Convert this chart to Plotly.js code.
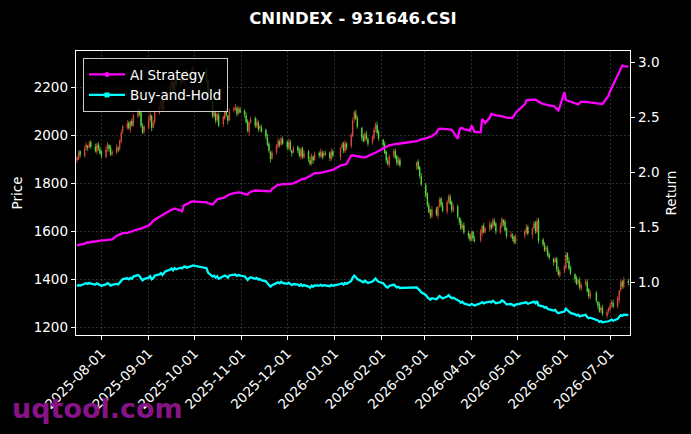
<!DOCTYPE html>
<html>
<head>
<meta charset="utf-8">
<script src="https://cdn.plot.ly/plotly-3.0.1.min.js"></script>
<style>
html,body{margin:0;padding:0;background:#000;}
#chart{width:691px;height:434px;}
</style>
</head>
<body>
<div id="chart"></div>
<script>
// ---- data ----
const startDate = '2025-07-16';
const endDate = '2026-07-13';
const holidays = ['2025-10-01','2025-10-02','2025-10-03','2025-10-06','2025-10-07','2025-10-08',
  '2026-01-01','2026-01-02','2026-02-16','2026-02-17','2026-02-18','2026-02-19','2026-02-20','2026-02-23',
  '2026-04-06','2026-05-01','2026-05-04','2026-05-05','2026-06-19'];

const openPx = [
 1895,1902,1931,1913,1944,1954,1951,1971,1950,1931,1962,1941,
 1931,1910,1940,1956,1948,1923,1928,1944,1944,1972,2016,2030,2050,2024,2058,2045,2078,2101,2094,2037,2016,
 2030,2062,2079,2033,2055,2093,2116,2144,2107,2156,2170,2202,2219,2193,2235,2208,2236,2229,2252,2266,2235,2267,
 2270,2228,2140,2078,2091,2064,2082,2046,2070,2102,2079,2063,2105,2108,2111,2094,2107,
 2101,2080,2057,2014,2053,2070,2038,2051,2029,2032,2021,1990,1962,1929,1903,1930,1953,1971,1964,1982,
 1971,1945,1972,1934,1928,1950,1933,1911,1944,1907,1931,1895,1882,1909,1898,1925,1913,1926,1914,1922,1926,1900,1932,
 1909,1948,1965,1933,1961,1954,1997,2066,2090,2072,2029,1993,1980,2003,1981,1969,1987,2026,2040,2012,
 1979,1963,1930,1893,1876,1914,1932,1911,1880,1897,1869,1888,1865,1828,
 1791,1754,1707,1686,1660,1692,1664,1703,1735,1708,1681,1724,1742,1721,1685,1702,1654,1643,1615,1623,1591,1584,
 1562,1596,1565,1562,1594,1623,1600,1608,1626,1619,1642,1631,1595,1622,1644,1638,1610,1578,1581,1574,1552,
 1581,1595,1617,1584,1613,1635,1598,1645,1564,1542,1526,1525,1502,1484,1473,1485,1438,1416,
 1434,1447,1506,1475,1447,1419,1403,1385,1393,1361,1379,1387,1356,1325,1342,1304,1293,1270,1278,1248,1266,
 1272,1296,1300,1287,1314,1353,1390,1368,1391
];
const highPx = [
 1913,1937,1937,1957,1969,1959,1977,1978,1964,1968,1970,1953,
 1937,1953,1971,1961,1959,1937,1962,1954,1983,2022,2041,2063,2059,2060,2069,2087,2119,2111,2102,2049,2041,
 2075,2094,2084,2061,2102,2134,2150,2152,2162,2181,2215,2234,2224,2241,2242,2254,2246,2263,2272,2272,2280,2289,
 2280,2232,2145,2109,2101,2093,2094,2081,2115,2111,2084,2111,2117,2129,2121,2118,2119,
 2107,2095,2066,2055,2076,2077,2069,2061,2043,2044,2027,2005,1971,1934,1936,1962,1989,1981,1993,1994,
 1977,1985,1981,1939,1956,1957,1947,1950,1952,1937,1937,1910,1924,1914,1931,1932,1944,1936,1933,1934,1932,1945,1941,
 1950,1971,1972,1979,1971,2008,2072,2101,2105,2081,2034,2004,2012,2017,1991,1998,2032,2051,2055,2021,
 1984,1974,1937,1907,1920,1943,1944,1917,1910,1906,1890,1899,1872,1842,
 1801,1762,1719,1692,1705,1701,1705,1741,1742,1722,1730,1753,1754,1727,1715,1711,1659,1654,1632,1637,1601,1592,
 1602,1602,1580,1609,1625,1634,1617,1644,1636,1653,1654,1637,1635,1659,1649,1649,1617,1599,1591,1582,1587,
 1606,1630,1626,1615,1641,1642,1654,1655,1572,1554,1536,1540,1511,1489,1491,1492,1452,1440,
 1458,1512,1512,1490,1456,1424,1414,1402,1407,1385,1398,1399,1362,1355,1351,1309,1304,1287,1292,1272,1283,
 1302,1311,1315,1329,1355,1396,1397,1409,1401
];
const lowPx = [
 1885,1896,1905,1906,1935,1933,1946,1941,1927,1919,1934,1919,
 1902,1903,1931,1930,1913,1912,1920,1928,1934,1966,2003,2023,2021,2009,2035,2034,2070,2078,2030,2004,2003,
 2023,2053,2015,2028,2044,2085,2104,2100,2101,2143,2163,2193,2175,2188,2199,2200,2213,2219,2246,2227,2228,2258,
 2215,2142,2070,2070,2048,2054,2034,2033,2063,2076,2045,2058,2094,2100,2078,2084,2089,
 2072,2048,2011,1999,2048,2029,2030,2013,2019,2009,1982,1953,1926,1885,1898,1919,1945,1948,1954,1959,
 1937,1938,1931,1910,1923,1924,1907,1899,1900,1901,1887,1873,1873,1880,1893,1904,1905,1898,1904,1914,1892,1893,1906,
 1894,1943,1924,1925,1938,1944,1991,2053,2063,2026,1975,1970,1969,1977,1953,1959,1981,2013,2003,1976,
 1945,1920,1884,1872,1864,1904,1899,1872,1873,1866,1854,1855,1819,1787,
 1738,1700,1674,1652,1653,1661,1649,1698,1699,1677,1669,1714,1709,1677,1678,1651,1625,1605,1604,1587,1568,1555,
 1556,1557,1553,1553,1579,1590,1589,1600,1603,1609,1619,1587,1588,1613,1620,1600,1569,1570,1558,1545,1546,
 1568,1588,1581,1569,1608,1589,1590,1548,1535,1514,1513,1493,1481,1455,1468,1429,1412,1404,
 1424,1441,1467,1438,1416,1385,1375,1374,1357,1349,1369,1344,1317,1318,1301,1275,1260,1259,1247,1236,1256,
 1266,1283,1278,1278,1299,1348,1359,1360,1373
];
const closePx = [
 1905,1925,1918,1942,1960,1948,1966,1952,1935,1958,1944,1925,
 1915,1938,1962,1945,1918,1930,1948,1940,1975,2010,2035,2048,2030,2055,2040,2080,2105,2090,2040,2010,2035,
 2060,2085,2030,2050,2095,2120,2140,2110,2150,2175,2200,2225,2190,2230,2210,2240,2225,2255,2260,2240,2265,2280,
 2230,2150,2080,2095,2060,2085,2040,2075,2100,2085,2060,2100,2110,2115,2090,2110,2095,
 2085,2055,2020,2050,2065,2040,2055,2025,2035,2015,1995,1960,1935,1900,1925,1955,1975,1960,1985,1965,
 1950,1970,1940,1925,1945,1935,1915,1940,1910,1925,1900,1880,1915,1895,1920,1915,1930,1910,1925,1920,1905,1930,1915,
 1945,1960,1935,1965,1950,2000,2060,2095,2070,2035,1990,1975,2005,1985,1965,1990,2020,2045,2010,1985,
 1960,1925,1895,1880,1910,1935,1905,1885,1895,1875,1885,1860,1830,1795,
 1750,1710,1680,1665,1690,1670,1700,1730,1710,1685,1720,1745,1715,1690,1700,1660,1640,1610,1625,1595,1580,1565,
 1590,1570,1560,1600,1620,1595,1610,1630,1615,1645,1625,1600,1620,1650,1635,1605,1580,1585,1570,1555,1575,
 1600,1615,1590,1610,1630,1600,1640,1560,1545,1520,1530,1500,1490,1470,1480,1440,1420,1430,
 1450,1500,1480,1445,1425,1400,1380,1395,1365,1375,1390,1350,1330,1340,1310,1290,1265,1280,1255,1262,1275,
 1290,1305,1285,1320,1350,1385,1370,1395,1385
];
const aiStrategy = [
 1.336,1.338,1.340,1.352,1.360,1.365,1.362,1.368,1.372,1.375,1.378,1.382,
 1.382,1.384,1.386,1.388,1.390,1.392,1.425,1.430,1.440,1.445,1.448,1.450,1.455,1.462,1.468,1.473,1.482,1.488,1.490,1.495,1.505,
 1.518,1.530,1.548,1.560,1.570,1.598,1.606,1.618,1.625,1.630,1.655,1.662,1.670,1.672,1.668,1.650,1.648,1.700,1.705,1.712,1.735,1.738,
 1.728,1.720,1.709,1.725,1.745,1.755,1.760,1.765,1.772,1.785,1.795,1.800,1.812,1.815,1.818,1.818,1.816,
 1.808,1.802,1.798,1.815,1.825,1.836,1.835,1.832,1.830,1.830,1.828,1.826,1.827,1.828,1.850,1.885,1.890,1.888,1.892,1.894,
 1.895,1.896,1.898,1.900,1.902,1.920,1.928,1.935,1.942,1.940,1.958,1.968,1.978,1.988,1.994,1.995,1.998,2.000,2.002,2.005,2.012,2.018,2.024,
 2.064,2.066,2.070,2.075,2.079,2.155,2.156,2.152,2.150,2.148,2.140,2.136,2.138,2.142,2.150,2.168,2.175,2.180,2.185,2.195,
 2.218,2.225,2.232,2.240,2.248,2.255,2.258,2.262,2.264,2.264,2.285,2.290,2.298,2.302,
 2.310,2.315,2.318,2.320,2.330,2.360,2.390,2.400,2.400,2.398,2.395,2.392,2.390,2.388,2.370,2.306,2.380,2.406,2.405,2.395,2.385,2.380,
 2.427,2.400,2.370,2.366,2.488,2.470,2.450,2.500,2.533,2.530,2.525,2.520,2.515,2.510,2.505,2.500,2.500,2.497,2.498,2.520,2.545,
 2.620,2.655,2.660,2.660,2.662,2.663,2.655,2.645,2.624,2.620,2.615,2.612,2.610,2.605,2.590,2.575,2.564,2.600,
 2.730,2.660,2.655,2.650,2.645,2.625,2.618,2.620,2.635,2.645,2.642,2.640,2.636,2.633,2.630,2.628,2.626,2.625,2.624,2.680,2.700,
 2.740,2.770,2.806,2.897,2.920,2.950,2.973,2.968,2.964
];
const buyHold = [
 0.965,0.975,0.971,0.983,0.992,0.986,0.995,0.988,0.980,0.991,0.984,0.975,
 0.970,0.981,0.993,0.985,0.971,0.977,0.986,0.982,1.000,1.018,1.030,1.037,1.028,1.041,1.033,1.053,1.066,1.058,1.033,1.018,1.030,
 1.043,1.056,1.028,1.038,1.061,1.073,1.084,1.068,1.089,1.101,1.114,1.127,1.109,1.129,1.119,1.134,1.127,1.142,1.144,1.134,1.147,1.154,
 1.129,1.089,1.053,1.061,1.043,1.056,1.033,1.051,1.063,1.056,1.043,1.063,1.068,1.071,1.058,1.068,1.061,
 1.056,1.041,1.023,1.038,1.046,1.033,1.041,1.025,1.030,1.020,1.010,0.992,0.980,0.962,0.975,0.990,1.000,0.992,1.005,0.995,
 0.987,0.997,0.982,0.975,0.985,0.980,0.970,0.982,0.967,0.975,0.962,0.952,0.970,0.960,0.972,0.970,0.977,0.967,0.975,0.972,0.965,0.977,0.970,
 0.985,0.992,0.980,0.995,0.987,1.013,1.043,1.061,1.048,1.030,1.008,1.000,1.015,1.005,0.995,1.008,1.023,1.035,1.018,1.005,
 0.992,0.975,0.960,0.952,0.967,0.980,0.965,0.954,0.960,0.949,0.954,0.942,0.927,0.909,
 0.886,0.866,0.851,0.843,0.856,0.846,0.861,0.876,0.866,0.853,0.871,0.884,0.868,0.856,0.861,0.841,0.830,0.815,0.823,0.808,0.800,0.792,
 0.805,0.795,0.790,0.810,0.820,0.808,0.815,0.825,0.818,0.833,0.823,0.810,0.820,0.835,0.828,0.813,0.800,0.803,0.795,0.787,0.797,
 0.810,0.818,0.805,0.815,0.825,0.810,0.830,0.790,0.782,0.770,0.775,0.760,0.754,0.744,0.749,0.729,0.719,0.724,
 0.734,0.760,0.749,0.732,0.722,0.709,0.699,0.706,0.691,0.696,0.704,0.684,0.673,0.678,0.663,0.653,0.641,0.648,0.636,0.639,0.646,
 0.653,0.661,0.651,0.668,0.684,0.701,0.694,0.706,0.701
];
const titleText = 'CNINDEX - 931646.CSI';
const seriesNames = ['AI Strategy', 'Buy-and-Hold'];
const watermark = 'uqtool.com';

// ---- trading calendar (weekdays minus exchange holidays) ----
function tradingDays(start, end, hol) {
  const out = [];
  const hs = new Set(hol);
  const [sy, sm, sd] = start.split('-').map(Number);
  const [ey, em, ed] = end.split('-').map(Number);
  let t = Date.UTC(sy, sm - 1, sd);
  const te = Date.UTC(ey, em - 1, ed);
  while (t <= te) {
    const d = new Date(t);
    const wd = d.getUTCDay();
    const s = d.toISOString().slice(0, 10);
    if (wd !== 0 && wd !== 6 && !hs.has(s)) out.push(s);
    t += 86400000;
  }
  return out;
}
const dates = tradingDays(startDate, endDate, holidays);

const font = 'DejaVu Sans, Verdana, sans-serif';
const upColor = 'rgb(235,80,65)';
const downColor = 'rgb(95,235,65)';

const traces = [
  {
    type: 'candlestick', x: dates, open: openPx, high: highPx, low: lowPx, close: closePx,
    xaxis: 'x', yaxis: 'y', showlegend: false, whiskerwidth: 0,
    increasing: {line: {color: upColor, width: 0.7}, fillcolor: upColor},
    decreasing: {line: {color: downColor, width: 0.7}, fillcolor: downColor},
    hoverinfo: 'skip'
  },
  {
    type: 'scatter', mode: 'lines', x: dates, y: aiStrategy, yaxis: 'y2',
    line: {color: '#ff00ff', width: 2.3}, showlegend: false, hoverinfo: 'skip'
  },
  {
    type: 'scatter', mode: 'lines', x: dates, y: buyHold, yaxis: 'y2',
    line: {color: '#00ffff', width: 2.3}, showlegend: false, hoverinfo: 'skip'
  },
  {
    type: 'scatter', mode: 'lines+markers', x: [null], y: [null], yaxis: 'y2', name: seriesNames[0],
    line: {color: '#ff00ff', width: 2.3}, marker: {symbol: 'circle', size: 5, color: '#ff00ff'}
  },
  {
    type: 'scatter', mode: 'lines+markers', x: [null], y: [null], yaxis: 'y2', name: seriesNames[1],
    line: {color: '#00ffff', width: 2.3}, marker: {symbol: 'square', size: 5, color: '#00ffff'}
  }
];

const gridStyle = {showgrid: true, gridcolor: 'rgba(150,150,150,0.5)', griddash: '2px,2px', gridwidth: 0.6};
const axisLine = {showline: true, linecolor: '#ffffff', linewidth: 1.3, ticks: 'outside', tickcolor: '#ffffff',
  ticklen: 4, tickwidth: 1, zeroline: false, tickfont: {family: font, size: 13.5, color: '#ffffff'}};

const layout = {
  width: 691, height: 434,
  paper_bgcolor: '#000000', plot_bgcolor: '#000000',
  margin: {l: 76, r: 61, t: 51, b: 99, pad: 0},
  font: {family: font, color: '#ffffff', size: 13.5},
  boxgap: 0.45,
  title: {text: '<b>' + titleText + '</b>', font: {family: font, size: 16.5, color: '#ffffff'},
    xref: 'paper', x: 0.5, xanchor: 'center', yref: 'container', y: 1 - 18 / 434, yanchor: 'middle'},
  xaxis: Object.assign({}, axisLine, gridStyle, {
    type: 'date', range: ['2025-07-15 07:00', '2026-07-14 02:00'],
    tick0: '2025-08-01', dtick: 'M1', tickformat: '%Y-%m-%d', tickangle: -45,
    mirror: true, rangeslider: {visible: false}
  }),
  yaxis: Object.assign({}, axisLine, gridStyle, {
    range: [1167, 2350], tick0: 1200, dtick: 200, mirror: true,
    title: {text: 'Price', font: {family: font, size: 13.5, color: '#ffffff'}, standoff: 8}
  }),
  yaxis2: Object.assign({}, axisLine, {
    overlaying: 'y', side: 'right', range: [0.521, 3.106], tick0: 0.5, dtick: 0.5, tickformat: '.1f',
    showgrid: false,
    title: {text: 'Return', font: {family: font, size: 13.5, color: '#ffffff'}, standoff: 8}
  }),
  legend: {x: 0.0126, y: 0.975, xanchor: 'left', yanchor: 'top', bgcolor: 'rgba(0,0,0,0.8)',
    bordercolor: '#cccccc', borderwidth: 1, font: {family: font, size: 13.5, color: '#ffffff'},
    tracegroupgap: 0, itemwidth: 36},
  annotations: [{
    text: '<b>' + watermark + '</b>', xref: 'paper', yref: 'paper',
    x: -0.12, xanchor: 'left', y: -0.26, yanchor: 'middle', showarrow: false,
    font: {family: font, size: 27, color: 'rgb(135,20,135)'}
  }],
  showlegend: true
};

Plotly.newPlot('chart', traces, layout, {staticPlot: true, displayModeBar: false});
</script>
</body>
</html>
